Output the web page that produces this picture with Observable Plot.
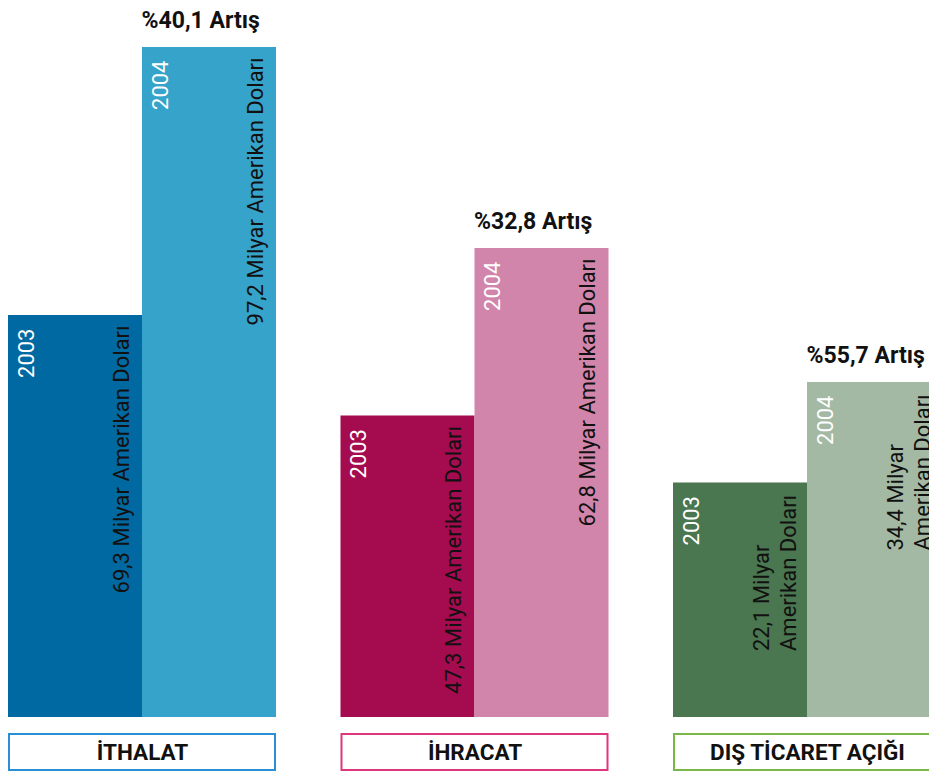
<!DOCTYPE html>
<html>
<head>
<meta charset="utf-8">
<script src="https://cdn.jsdelivr.net/npm/d3@7"></script>
<script src="https://cdn.jsdelivr.net/npm/@observablehq/plot@0.6"></script>
<style>
  html, body { margin: 0; padding: 0; background: #fff; overflow: hidden; }
  #chart { width: 941px; }
  #chart svg { display: block; max-width: none !important; }
</style>
</head>
<body>
<div id="chart"></div>
<script>
// ---- data ----
const groups = ["İTHALAT", "İHRACAT", "DIŞ TİCARET AÇIĞI"];
const years = ["2003", "2004"];
const values2003 = [69.3, 47.3, 22.1];   // milyar $
const values2004 = [97.2, 62.8, 34.4];   // milyar $
const increasePct = [40.1, 32.8, 55.7];  // % artış
// bar lengths as drawn in the infographic (index, longest = 100)
const drawn2003 = [60, 45, 35];
const drawn2004 = [100, 70, 50];
const colors2003 = ["#0069a1", "#a50b4f", "#4a7650"];
const colors2004 = ["#36a3ca", "#d285aa", "#a3b9a4"];
const borderColors = ["#2b8fd6", "#e0357f", "#7ab648"];

const fmt = v => v.toLocaleString("tr-TR", {minimumFractionDigits: 1, maximumFractionDigits: 1});

const rows = [];
groups.forEach((g, i) => {
  rows.push({group: g, gi: i, year: years[0], value: values2003[i], drawn: drawn2003[i], color: colors2003[i]});
  rows.push({group: g, gi: i, year: years[1], value: values2004[i], drawn: drawn2004[i], color: colors2004[i]});
});
const wrapped = i => i === 2;
const labelText = d => wrapped(d.gi)
  ? `${fmt(d.value)} Milyar\nAmerikan Doları`
  : `${fmt(d.value)} Milyar Amerikan Doları`;
const groupRows = groups.map((g, i) => ({group: g, border: borderColors[i], inc: increasePct[i], drawn: drawn2004[i], year: years[1]}));

const W = 941;
const fxOpts = {domain: groups, paddingInner: 0.194, paddingOuter: 0, round: false, axis: null, label: null};
const font = {fontFamily: "Roboto, 'Noto Sans', sans-serif", background: "transparent", overflow: "visible", maxWidth: "none"};

const main = Plot.plot({
  width: W, height: 720,
  marginLeft: 8, marginRight: 0, marginTop: 47, marginBottom: 3,
  style: font,
  fx: fxOpts,
  x: {domain: years, padding: 0, round: false, axis: null, label: null},
  y: {domain: [0, 100], axis: null},
  color: {type: "identity"},
  marks: [
    Plot.barY(rows, {fx: "group", x: "year", y: "drawn", fill: d => d.color}),
    Plot.text(rows, {fx: "group", x: "year", y: "drawn", text: "year", rotate: -90,
      textAnchor: "end", dy: 13, dx: -49, fill: "white", fontSize: 22}),
    Plot.text(rows.filter(d => !wrapped(d.gi)), {fx: "group", x: "year", y: "drawn", text: labelText, rotate: -90,
      textAnchor: "end", dy: 10, dx: 46, fill: "#111", fontSize: 22}),
    Plot.text(rows.filter(d => wrapped(d.gi)), {fx: "group", x: "year", y: "drawn", text: labelText, rotate: -90,
      textAnchor: "start", lineHeight: 1.26, dy: 168, dx: 33, fill: "#111", fontSize: 22}),
    Plot.text(groupRows, {fx: "group", x: "year", y: "drawn", text: d => `%${fmt(d.inc)} Artış`,
      textAnchor: "start", lineAnchor: "bottom", dx: -68, dy: -20, fontWeight: "bold", fontSize: 23, fill: "#111"})
  ]
});

const labels = Plot.plot({
  width: W, height: 54,
  marginLeft: 8, marginRight: 0, marginTop: 13, marginBottom: 3,
  style: font,
  fx: fxOpts,
  x: {padding: 0, round: false, axis: null, label: null},
  y: {padding: 0, round: false, axis: null, label: null},
  color: {type: "identity"},
  marks: [
    Plot.cell(groupRows, {fx: "group", x: () => "box", y: () => "box", stroke: d => d.border, fill: "white", strokeWidth: 2, inset: 1}),
    Plot.text(groupRows, {fx: "group", text: "group", frameAnchor: "middle", fontWeight: "bold", fontSize: 22.5, fill: "#111"})
  ]
});

const el = document.getElementById("chart");
el.appendChild(main);
el.appendChild(labels);
</script>
</body>
</html>
